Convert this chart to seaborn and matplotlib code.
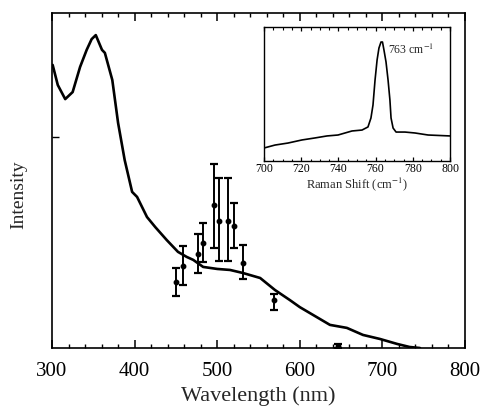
import matplotlib
matplotlib.use("Agg")
import matplotlib.pyplot as plt
from matplotlib.ticker import MultipleLocator, NullFormatter
import seaborn as sns
import pandas as pd

# ---- main spectrum (wavelength nm vs intensity, arbitrary units) ----
wl = [300.8, 307, 316, 325, 334, 342, 348, 353, 360.5, 364, 373, 380, 388, 397,
      403, 415, 425, 439, 452.5, 463, 471, 483, 500, 515.5, 531, 552, 570, 588,
      600, 636.5, 657, 676.5, 697, 718, 733, 745.5]
inten = [0.845, 0.785, 0.743, 0.764, 0.839, 0.890, 0.922, 0.934, 0.890, 0.881,
         0.800, 0.672, 0.561, 0.466, 0.451, 0.391, 0.361, 0.322, 0.287, 0.272,
         0.263, 0.242, 0.236, 0.233, 0.224, 0.209, 0.173, 0.143, 0.122, 0.069,
         0.060, 0.039, 0.027, 0.012, 0.003, 0.0]

# ---- data points with error bars ----
pt_wl = [450, 458.6, 476.8, 482.8, 496, 502, 513, 520, 531, 569, 646]
pt_val = [0.197, 0.245, 0.281, 0.313, 0.427, 0.379, 0.379, 0.364, 0.254, 0.143, 0.006]
pt_lo = [0.155, 0.188, 0.224, 0.257, 0.299, 0.260, 0.260, 0.299, 0.206, 0.113, 0.001]
pt_hi = [0.239, 0.304, 0.340, 0.373, 0.549, 0.507, 0.507, 0.433, 0.307, 0.161, 0.011]

# ---- inset Raman spectrum ----
raman = [700, 705.9, 712.9, 720.4, 727.4, 733.9, 739.8, 747.3, 752.7, 755.9,
         757.5, 758.6, 759.7, 760.8, 761.8, 762.9, 763.7, 764.5, 765.6, 766.7,
         767.7, 768.3, 769.4, 771.0, 775.8, 781.2, 788.2, 800]
r_int = [0.097, 0.119, 0.134, 0.157, 0.172, 0.187, 0.194, 0.224, 0.231, 0.254,
         0.321, 0.418, 0.604, 0.754, 0.843, 0.888, 0.888, 0.828, 0.739, 0.604,
         0.455, 0.321, 0.246, 0.216, 0.216, 0.209, 0.194, 0.187]

main_df = pd.DataFrame({"wl": wl, "I": inten})
inset_df = pd.DataFrame({"shift": raman, "I": r_int})

sns.set_style("ticks")
plt.rcParams["font.family"] = ["Liberation Serif", "DejaVu Serif"]
plt.rcParams["mathtext.fontset"] = "stix"
plt.rcParams["xtick.color"] = "black"
plt.rcParams["ytick.color"] = "black"

fig = plt.figure(figsize=(4.84, 4.13), dpi=100)
ax = fig.add_axes([52 / 484, 65 / 413, 413 / 484, 335 / 413])

sns.lineplot(data=main_df, x="wl", y="I", ax=ax, color="black", lw=1.9,
             sort=False, estimator=None)
yerr = [[v - l for v, l in zip(pt_val, pt_lo)], [h - v for v, h in zip(pt_val, pt_hi)]]
ax.errorbar(pt_wl, pt_val, yerr=yerr, fmt="o", color="black", ms=3.2,
            elinewidth=1.4, capsize=2.6, capthick=1.6)

ax.set_xlim(300, 800)
ax.set_ylim(0, 1)
ax.xaxis.set_major_locator(MultipleLocator(100))
ax.xaxis.set_minor_locator(MultipleLocator(20))
ax.set_yticks([0.63])
ax.yaxis.set_major_formatter(NullFormatter())
ax.tick_params(axis="x", which="major", direction="in", top=True, bottom=True,
               labelsize=15, pad=10, length=6, width=1.1, color="black")
ax.tick_params(axis="x", which="minor", direction="in", top=True, bottom=True,
               length=3.2, width=1.0, color="black")
ax.tick_params(axis="y", which="major", direction="in", length=5, width=1.0,
               left=True, right=False, color="black")
ax.set_xlabel("Wavelength (nm)", fontsize=16, labelpad=4)
ax.set_ylabel("Intensity", fontsize=14)
ax.yaxis.set_label_coords(-0.06, 0.457)
for s in ax.spines.values():
    s.set_linewidth(1.2)
    s.set_color("black")

# ---- inset ----
ins = fig.add_axes([264 / 484, 252 / 413, 186 / 484, 134 / 413])
sns.lineplot(data=inset_df, x="shift", y="I", ax=ins, color="black", lw=1.2,
             sort=False, estimator=None)
ins.set_xlim(700, 800)
ins.set_ylim(0, 1)
ins.xaxis.set_major_locator(MultipleLocator(20))
ins.xaxis.set_minor_locator(MultipleLocator(5))
ins.set_yticks([])
ins.tick_params(axis="x", which="major", direction="in", top=True, bottom=True,
                labelsize=8.5, pad=1.5, length=3.2, width=0.9, color="black")
ins.tick_params(axis="x", which="minor", direction="in", top=True, bottom=True,
                length=1.8, width=0.8, color="black")
ins.set_xlabel("Raman Shift (cm$^{-1}$)", fontsize=9, labelpad=0)
ins.set_ylabel("")
for s in ins.spines.values():
    s.set_linewidth(1.0)
    s.set_color("black")
ins.text(766.7, 0.83, "763 cm$^{-1}$", fontsize=8.5, va="center", ha="left")

fig.savefig("out.png", dpi=100)
